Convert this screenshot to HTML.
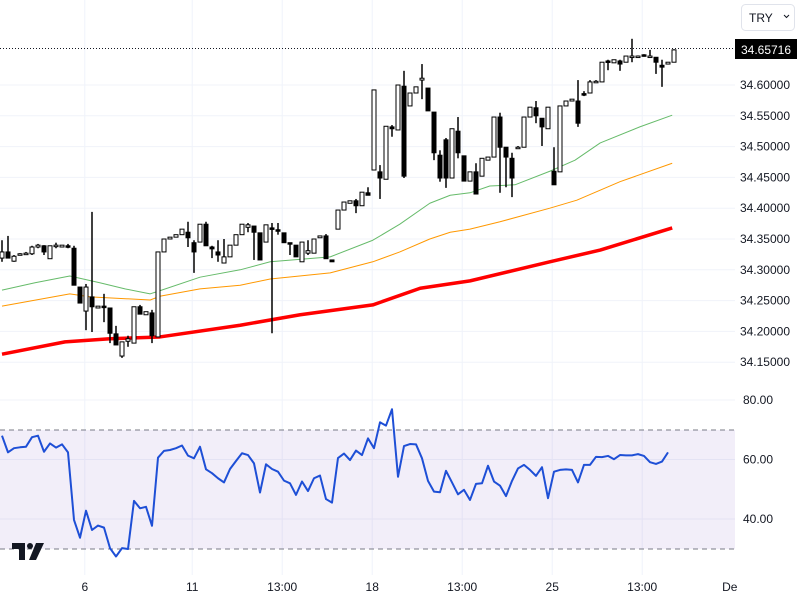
<!DOCTYPE html>
<html><head><meta charset="utf-8"><style>
body{margin:0;background:#fff;font-family:"Liberation Sans",sans-serif;}
#wrap{position:relative;width:800px;height:600px;overflow:hidden;}
svg text{font-family:"Liberation Sans",sans-serif;font-size:12px;fill:#131722;}
</style></head><body>
<div id="wrap">
<svg id="chart" width="800" height="600">
  <g id="grid"></g>
  <rect x="0" y="430" width="735" height="119" fill="rgba(126,87,194,0.1)"/>
  <line x1="0" y1="430" x2="735" y2="430" stroke="#787b86" stroke-dasharray="5,4"/>
  <line x1="0" y1="549" x2="735" y2="549" stroke="#787b86" stroke-dasharray="5,4"/>
  <g id="mas"></g>
  <g id="candles"></g>
  <g id="rsi"></g>
  <line x1="0" y1="48.5" x2="735" y2="48.5" stroke="#131722" stroke-dasharray="1,2"/>
  <g id="axes"></g>
  <rect x="735" y="39" width="62" height="20" fill="#000"/>
  <text x="766" y="54" text-anchor="middle" style="fill:#fff">34.65716</text>
  <g>
    <rect x="741.5" y="4.5" width="53" height="26" rx="4" fill="#fff" stroke="#e0e3eb"/>
    <text x="749" y="22">TRY</text>
    <path d="M784 15 l2.5 2.5 l2.5 -2.5" fill="none" stroke="#131722"/>
  </g>
  <g>
    <path d="M12 543 h13 v17 h-6 v-11 h-7z" fill="#131722"/>
    <circle cx="30" cy="546" r="3" fill="#131722"/>
    <path d="M36 543 h8 l-8 17 h-7z" fill="#131722"/>
  </g>
</svg>
</div>
<script>
const opens=[34.319,34.329,34.314,34.326,34.327,34.326,34.337,34.339,34.318,34.339,34.337,34.339,34.335,34.272,34.233,34.256,34.238,34.241,34.238,34.196,34.160,34.184,34.181,34.240,34.227,34.230,34.191,34.329,34.350,34.353,34.357,34.361,34.344,34.345,34.374,34.337,34.329,34.311,34.321,34.340,34.357,34.369,34.371,34.360,34.345,34.368,34.365,34.360,34.344,34.340,34.313,34.327,34.327,34.352,34.355,34.316,34.366,34.397,34.408,34.412,34.404,34.425,34.462,34.459,34.447,34.532,34.527,34.598,34.566,34.587,34.608,34.595,34.556,34.486,34.511,34.449,34.525,34.485,34.444,34.459,34.452,34.478,34.483,34.548,34.499,34.481,34.499,34.499,34.548,34.563,34.546,34.529,34.460,34.459,34.566,34.574,34.574,34.586,34.587,34.606,34.605,34.639,34.636,34.639,34.637,34.647,34.647,34.649,34.647,34.645,34.632,34.634,34.637];
const highs=[34.348,34.355,34.324,34.327,34.329,34.339,34.342,34.340,34.339,34.344,34.340,34.342,34.339,34.272,34.277,34.394,34.241,34.261,34.238,34.209,34.183,34.193,34.240,34.243,34.232,34.235,34.329,34.350,34.353,34.357,34.366,34.378,34.348,34.374,34.378,34.339,34.348,34.350,34.340,34.357,34.374,34.376,34.371,34.360,34.373,34.376,34.376,34.360,34.344,34.340,34.345,34.348,34.350,34.355,34.358,34.316,34.397,34.410,34.412,34.415,34.426,34.434,34.592,34.470,34.533,34.535,34.600,34.623,34.587,34.597,34.634,34.595,34.556,34.494,34.514,34.529,34.548,34.485,34.459,34.473,34.481,34.483,34.548,34.555,34.499,34.490,34.501,34.548,34.564,34.574,34.546,34.564,34.499,34.566,34.574,34.577,34.608,34.590,34.608,34.608,34.637,34.641,34.641,34.641,34.647,34.675,34.648,34.650,34.657,34.645,34.641,34.637,34.658];
const lows=[34.313,34.319,34.313,34.324,34.325,34.324,34.335,34.324,34.318,34.335,34.337,34.335,34.275,34.246,34.202,34.199,34.238,34.215,34.181,34.178,34.157,34.175,34.181,34.228,34.227,34.181,34.191,34.329,34.350,34.353,34.357,34.337,34.295,34.345,34.339,34.319,34.313,34.311,34.321,34.340,34.357,34.361,34.316,34.316,34.345,34.197,34.357,34.344,34.324,34.321,34.313,34.324,34.327,34.352,34.318,34.313,34.366,34.397,34.408,34.392,34.404,34.421,34.462,34.415,34.447,34.516,34.527,34.449,34.566,34.587,34.577,34.558,34.478,34.443,34.433,34.449,34.481,34.444,34.444,34.423,34.452,34.478,34.483,34.425,34.434,34.418,34.497,34.499,34.548,34.538,34.501,34.529,34.438,34.459,34.566,34.574,34.532,34.582,34.587,34.604,34.605,34.624,34.636,34.623,34.637,34.637,34.646,34.646,34.644,34.618,34.597,34.634,34.637];
const closes=[34.329,34.319,34.322,34.326,34.327,34.337,34.340,34.329,34.339,34.340,34.340,34.337,34.275,34.246,34.272,34.240,34.241,34.240,34.197,34.178,34.183,34.188,34.240,34.228,34.232,34.193,34.329,34.350,34.353,34.357,34.366,34.352,34.329,34.374,34.339,34.334,34.324,34.321,34.340,34.357,34.374,34.373,34.361,34.316,34.373,34.366,34.363,34.344,34.342,34.321,34.345,34.331,34.350,34.355,34.318,34.313,34.397,34.410,34.412,34.404,34.426,34.421,34.592,34.449,34.533,34.529,34.600,34.452,34.587,34.597,34.611,34.558,34.490,34.449,34.449,34.529,34.490,34.444,34.459,34.423,34.481,34.483,34.548,34.499,34.483,34.449,34.499,34.548,34.564,34.550,34.532,34.564,34.438,34.566,34.574,34.577,34.538,34.585,34.605,34.606,34.637,34.637,34.641,34.634,34.647,34.647,34.647,34.647,34.647,34.637,34.629,34.637,34.657];
const ma20Idx=[0,5.5,11.3,16.3,20.5,24.7,26.3,33,39.7,44.7,54.7,61.8,66.3,71.3,74.7,78,81.3,85.5,91.3,95.5,99.7,106.3,111.7];
const ma20Val=[34.267,34.279,34.290,34.279,34.269,34.261,34.266,34.288,34.300,34.313,34.321,34.348,34.374,34.408,34.421,34.425,34.436,34.438,34.460,34.478,34.506,34.532,34.551];
const ma50Idx=[0,11.3,14.7,24.7,26.3,33,39.7,44.7,54.7,61.8,66.3,71.3,74.7,78,83,91.3,95.8,103,111.7];
const ma50Val=[34.241,34.261,34.256,34.251,34.257,34.269,34.275,34.285,34.295,34.313,34.329,34.350,34.361,34.366,34.378,34.400,34.413,34.443,34.473];
const ma100Idx=[0,10.5,18,26.3,39.7,49.7,61.8,69.7,78,91.3,99.7,111.7];
const ma100Val=[34.163,34.183,34.188,34.191,34.210,34.227,34.243,34.270,34.282,34.313,34.332,34.368];
const rsiVals=[68.0,62.4,63.8,64.1,64.3,67.5,68.0,62.6,65.4,64.0,65.1,62.4,39.7,33.7,42.8,36.3,37.8,37.1,30.2,27.4,30.2,29.9,46.1,43.6,44.1,37.7,60.6,62.9,63.2,63.8,64.7,61.3,60.4,64.3,56.7,55.4,53.7,52.3,56.8,59.5,62.1,61.5,58.7,48.9,58.4,56.8,55.9,52.9,52.0,48.1,52.6,49.4,53.7,54.6,46.7,45.5,60.5,62.0,59.8,63.0,61.5,67.1,63.8,72.5,71.4,76.9,54.2,64.5,65.2,65.1,60.4,52.8,49.2,49.0,56.2,52.3,48.3,49.8,46.4,51.8,52.0,57.9,52.6,51.2,47.7,52.8,57.0,58.2,56.5,54.5,57.4,47.0,55.9,56.5,56.7,56.5,52.3,58.2,58.2,60.9,60.8,61.2,60.1,61.5,61.4,61.4,61.8,61.2,59.1,58.5,59.3,62.4];
const priceTicks=[34.60,34.55,34.50,34.45,34.40,34.35,34.30,34.25,34.20,34.15];
const rsiTicks=[80,60,40];
const timeTickIdx=[13.8,31.7,46.7,61.7,76.7,91.7,106.7,121.3];
const timeTickLabels=["6","11","13:00","18","13:00","25","13:00","De"];

const NS="http://www.w3.org/2000/svg";
const xS=i=>2+6*i;
const yP=v=>85+(34.60-v)/0.05*30.8;
const yR=v=>400+(80-v)*2.975;
function mk(tag,attrs,parent){const e=document.createElementNS(NS,tag);for(const k in attrs)e.setAttribute(k,attrs[k]);parent.appendChild(e);return e;}
const grid=document.getElementById('grid'),axes=document.getElementById('axes');
priceTicks.forEach(v=>{
  const l=mk('line',{x1:0,x2:735,y1:yP(v),y2:yP(v),stroke:'#f0f3fa'},grid);
  
  
  const t=mk('text',{x:790,y:yP(v)+4,'text-anchor':'end'},axes);
  t.textContent=v.toFixed(5);
  
  
});
rsiTicks.forEach(v=>{
  const l=mk('line',{x1:0,x2:735,y1:yR(v),y2:yR(v),stroke:'#f0f3fa'},grid);
  
  
  const t=mk('text',{x:773,y:yR(v)+4,'text-anchor':'end'},axes);
  t.textContent=v.toFixed(2);
  
  
});
timeTickIdx.forEach((ix,k)=>{
  if(k<timeTickIdx.length-1){
    const l=mk('line',{x1:xS(ix),x2:xS(ix),y1:0,y2:575,stroke:'#f0f3fa'},grid);
    
    
  }
  const t=mk('text',{x:xS(ix),y:591,'text-anchor':'middle'},axes);
  t.textContent=timeTickLabels[k];
  
  
});
function maLine(idx,val,color,w,name){
  const pts=idx.map((ix,k)=>xS(ix)+','+yP(val[k])).join(' ');
  const p=mk('polyline',{points:pts,fill:'none',stroke:color,'stroke-width':w,'stroke-linejoin':'round'},document.getElementById('mas'));
  
  
}
maLine(ma20Idx,ma20Val,'#66bb6a',1,'ma-short-line');
maLine(ma50Idx,ma50Val,'#ff9800',1,'ma-medium-line');
maLine(ma100Idx,ma100Val,'#ff0000',3.5,'ma-long-line');
const cg=document.getElementById('candles');
opens.forEach((o,i)=>{
  const c=closes[i],x=xS(i),up=c>=o;
  const g=mk('g',{},cg);
  
  
  mk('line',{x1:x,x2:x,y1:yP(highs[i]),y2:yP(lows[i]),stroke:'#000','stroke-width':1.5},g);
  const top=yP(Math.max(o,c)),bot=yP(Math.min(o,c));
  const h=Math.max(bot-top,1.5);
  mk('rect',{x:x-2,y:top,width:4,height:h,fill:up?'#fff':'#000',stroke:'#000','stroke-width':1},g);
});
const rp=mk('polyline',{points:rsiVals.map((v,i)=>xS(i)+','+yR(v)).join(' '),fill:'none',stroke:'#1e4fd6','stroke-width':2,'stroke-linejoin':'round'},document.getElementById('rsi'));


</script>
</body></html>
